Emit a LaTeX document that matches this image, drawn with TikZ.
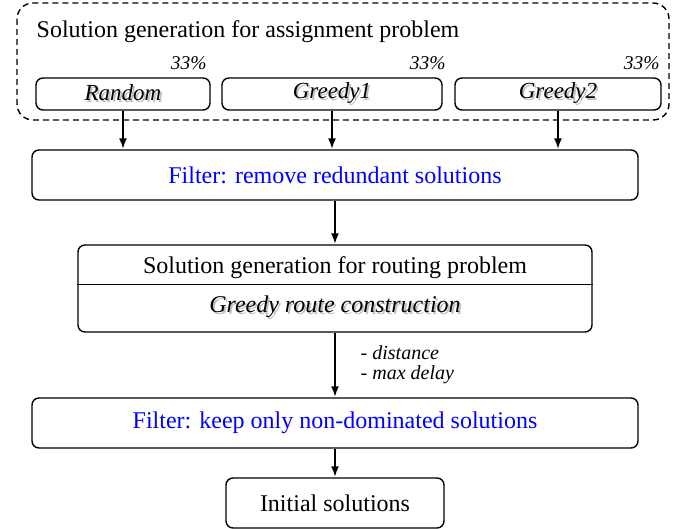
\documentclass[tikz,border=0pt]{standalone}
\usepackage{fontspec}
\setmainfont{Liberation Serif}
\usetikzlibrary{arrows.meta}

\newcommand{\shadowtext}[1]{\makebox[0pt][l]{\hspace{1.8pt}\raisebox{-1.8pt}{\color{black!25}#1}}#1}

\tikzset{
	stepbox/.style={draw, line width=1.4pt, rounded corners=7pt, inner sep=0pt},
	genbox/.style={stepbox, minimum height=32pt, font=\fontsize{23}{26}\selectfont\itshape},
	filterbox/.style={stepbox, minimum width=606pt, minimum height=50pt, text={rgb,255:red,0;green,0;blue,255}, font=\fontsize{24}{28}\selectfont},
	flow/.style={line width=2pt, -{Latex[length=11pt,width=8pt]}},
	share/.style={anchor=base east, inner sep=0pt, font=\fontsize{19.5}{22}\selectfont\itshape}
}
\tikzset{every picture/.style={line width=0.75pt}}

\begin{document}
\begin{tikzpicture}[x=1pt,y=1pt,yscale=-1,xscale=1]
	\useasboundingbox (0,0) rectangle (683,529);

	%Dashed frame: assignment problem
	\draw [line width=1.4pt, dash pattern=on 6pt off 4pt, rounded corners=16pt] (17,3) rectangle (669,120);
	% Text Node
	\draw (33,32) node [anchor=west, font=\fontsize{24}{28}\selectfont] (assigntitle) {Solution generation for assignment problem};

	%Generators
	\node [genbox, minimum width=174pt] (random) at (123,94) {\shadowtext{Random}};
	\node [genbox, minimum width=220pt] (greedyone) at (332,94) {\shadowtext{Greedy1}};
	\node [genbox, minimum width=206pt] (greedytwo) at (558,94) {\shadowtext{Greedy2}};
	% Text Node
	\draw (207,70) node [share] (sharerandom) {33\%};
	% Text Node
	\draw (446,70) node [share] (shareone) {33\%};
	% Text Node
	\draw (660,70) node [share] (sharetwo) {33\%};

	%Filter 1
	\node [filterbox] (filterone) at (335,175) {Filter: remove redundant solutions};

	%Routing box
	\node [stepbox, minimum width=514pt, minimum height=87pt] (route) at (335,288.5) {};
	\draw [line width=1pt] (route.west |- 0,285) -- (route.east |- 0,285);
	% Text Node
	\draw (335,268) node [font=\fontsize{24}{28}\selectfont] (routetitle) {Solution generation for routing problem};
	% Text Node
	\draw (335,308) node [font=\fontsize{24}{28}\selectfont\itshape] (routegreedy) {\shadowtext{Greedy route construction}};

	%Filter 2
	\node [filterbox] (filtertwo) at (335,423) {Filter: keep only non-dominated solutions};

	%Result
	\node [stepbox, minimum width=218pt, minimum height=50pt, font=\fontsize{24}{28}\selectfont] (initial) at (335,503) {Initial solutions};

	% Text Node
	\draw (357,353) node [anchor=west, font=\fontsize{20}{23}\selectfont\itshape] (objdist) {- distance};
	% Text Node
	\draw (357,375) node [anchor=west, font=\fontsize{20}{23}\selectfont\itshape] (objdelay) {- max delay};

	%Arrows
	\draw [flow] (random.south) -- (random.south |- filterone.north);
	\draw [flow] (greedyone.south) -- (greedyone.south |- filterone.north);
	\draw [flow] (greedytwo.south) -- (greedytwo.south |- filterone.north);
	\draw [flow] (filterone.south) -- (route.north);
	\draw [flow] (route.south) -- (filtertwo.north);
	\draw [flow] (filtertwo.south) -- (initial.north);

\end{tikzpicture}
\end{document}
